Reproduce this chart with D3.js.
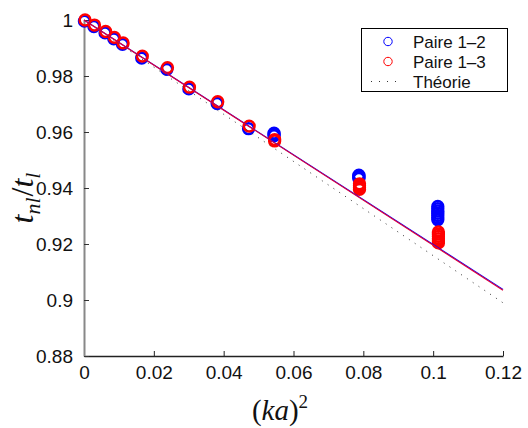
<!DOCTYPE html>
<html>
<head>
<meta charset="utf-8">
<script src="https://cdn.jsdelivr.net/npm/d3@7"></script>
<style>
  html, body { margin: 0; padding: 0; background: #fff; }
  svg { display: block; }
</style>
</head>
<body>
<div id="chart"></div>
<script>
// ---- data ----
const xTicks = [0, 0.02, 0.04, 0.06, 0.08, 0.1, 0.12];
const xTickLabels = ["0", "0.02", "0.04", "0.06", "0.08", "0.1", "0.12"];
const yTicks = [0.88, 0.9, 0.92, 0.94, 0.96, 0.98, 1];
const yTickLabels = ["0.88", "0.9", "0.92", "0.94", "0.96", "0.98", "1"];

// Paire 1-2 (blue)
const x12 = [0.0003, 0.0030, 0.0062, 0.0087, 0.0112, 0.0167, 0.0239, 0.0302, 0.0383, 0.0473,
             0.0546, 0.0546, 0.0546,
             0.0789, 0.0789, 0.0789, 0.0789,
             0.1015, 0.1015, 0.1015, 0.1015, 0.1015, 0.1015, 0.1015];
const y12 = [0.9998, 0.9979, 0.9956, 0.9935, 0.9915, 0.9866, 0.9826, 0.9756, 0.9704, 0.9614,
             0.9598, 0.9593, 0.9589,
             0.9448, 0.9444, 0.9440, 0.9436,
             0.9336, 0.9328, 0.9320, 0.9312, 0.9304, 0.9296, 0.9289];
// Paire 1-3 (red)
const x13 = [0.0003, 0.0030, 0.0062, 0.0087, 0.0112, 0.0167, 0.0239, 0.0302, 0.0383, 0.0473,
             0.0546, 0.0546,
             0.0789, 0.0789, 0.0789, 0.0789,
             0.1015, 0.1015, 0.1015, 0.1015, 0.1015, 0.1015];
const y13 = [1.0000, 0.9982, 0.9959, 0.9938, 0.9918, 0.9871, 0.9830, 0.9760, 0.9708, 0.9621,
             0.9573, 0.9568,
             0.9415, 0.9408, 0.9401, 0.9395,
             0.9243, 0.9235, 0.9227, 0.9219, 0.9211, 0.9204];

// fitted lines and theory (endpoints)
const lineX = [0, 0.12];
const fit12 = [1.0, 0.9038];
const fit13 = [1.0, 0.9035];
const theory = [1.0, 0.8990];

const legendLabels = ["Paire 1\u20132", "Paire 1\u20133", "Th\u00e9orie"];

// ---- layout ----
const W = 528, H = 428;
const m = { left: 84, right: 25, top: 20, bottom: 72 };

const svg = d3.select("#chart").append("svg")
  .attr("width", W).attr("height", H);

const x = d3.scaleLinear().domain([0, 0.12]).range([m.left, W - m.right]);
const y = d3.scaleLinear().domain([0.88, 1]).range([H - m.bottom, m.top]);

const tickFont = "'Liberation Sans', Arial, Helvetica, sans-serif";

// axes
const xAxis = d3.axisBottom(x).tickValues(xTicks)
  .tickFormat((d, i) => xTickLabels[i]).tickSizeInner(-5).tickSizeOuter(0).tickPadding(10);
const yAxis = d3.axisLeft(y).tickValues(yTicks)
  .tickFormat((d, i) => yTickLabels[i]).tickSizeInner(-5).tickSizeOuter(0).tickPadding(11);

const gx = svg.append("g").attr("transform", `translate(0,${y(0.88)})`).call(xAxis);
gx.select(".domain").attr("stroke", "#222").attr("stroke-width", 1.5);
gx.selectAll(".tick line").attr("stroke", "#222");
gx.selectAll(".tick text").attr("font-family", tickFont).attr("font-size", 19).attr("fill", "#111");

const gy = svg.append("g").attr("transform", `translate(${x(0)},0)`).call(yAxis);
gy.select(".domain").attr("stroke", "#888").attr("stroke-width", 2);
gy.selectAll(".tick line").attr("stroke", "#333");
gy.selectAll(".tick text").attr("font-family", tickFont).attr("font-size", 19).attr("fill", "#111");

// data markers
const pts12 = x12.map((v, i) => [v, y12[i]]);
const pts13 = x13.map((v, i) => [v, y13[i]]);

svg.append("g").selectAll("circle").data(pts12).join("circle")
  .attr("cx", d => x(d[0]) - 0.6).attr("cy", d => y(d[1]) + 0.6).attr("r", 5.4)
  .attr("fill", "none").attr("stroke", "#0000ff").attr("stroke-width", 2.5);
svg.append("g").selectAll("circle").data(pts13).join("circle")
  .attr("cx", d => x(d[0])).attr("cy", d => y(d[1])).attr("r", 5.4)
  .attr("fill", "none").attr("stroke", "#ff0000").attr("stroke-width", 2.5);

// lines
const line = d3.line().x(d => x(d[0])).y(d => y(d[1]));
svg.append("path").datum(lineX.map((v, i) => [v, theory[i]]))
  .attr("d", line).attr("fill", "none").attr("stroke", "#333")
  .attr("stroke-width", 1).attr("stroke-dasharray", "1,6");
svg.append("path").datum(lineX.map((v, i) => [v, fit12[i]]))
  .attr("d", line).attr("fill", "none").attr("stroke", "#0000ff").attr("stroke-width", 1.1);
svg.append("path").datum(lineX.map((v, i) => [v, fit13[i]]))
  .attr("d", line).attr("fill", "none").attr("stroke", "#e0003a").attr("stroke-width", 1.2);

// legend
const lg = svg.append("g");
lg.append("rect").attr("x", 361.5).attr("y", 28.5).attr("width", 146).attr("height", 63)
  .attr("fill", "#fff").attr("stroke", "#000").attr("stroke-width", 1);
const rowsY = [41.5, 61.5, 81.5];
lg.append("circle").attr("cx", 388).attr("cy", rowsY[0]).attr("r", 4.2)
  .attr("fill", "none").attr("stroke", "#0000ff").attr("stroke-width", 1);
lg.append("circle").attr("cx", 388).attr("cy", rowsY[1]).attr("r", 4.2)
  .attr("fill", "none").attr("stroke", "#ff0000").attr("stroke-width", 1);
lg.append("line").attr("x1", 371).attr("x2", 401).attr("y1", rowsY[2]).attr("y2", rowsY[2])
  .attr("stroke", "#333").attr("stroke-width", 1).attr("stroke-dasharray", "1,7");
lg.selectAll("text.lab").data(legendLabels).join("text").attr("class", "lab")
  .attr("x", 413).attr("y", (d, i) => rowsY[i]).attr("dy", "0.36em")
  .attr("font-family", tickFont).attr("font-size", 17).attr("fill", "#111").text(d => d);

// x-axis title (ka)^2
const xt = svg.append("text").attr("x", 280).attr("y", 420).attr("text-anchor", "middle")
  .attr("font-family", "'Liberation Serif', 'DejaVu Serif', serif").attr("font-size", 29).attr("fill", "#111");
xt.append("tspan").text("(");
xt.append("tspan").attr("font-style", "italic").text("ka");
xt.append("tspan").text(")");
xt.append("tspan").attr("font-size", 19).attr("dy", -12).text("2");

// y-axis title t_nl / t_l
const yt = svg.append("text").attr("transform", "translate(33,198) rotate(-90)")
  .attr("text-anchor", "middle")
  .attr("font-family", "'Liberation Serif', 'DejaVu Serif', serif").attr("font-size", 32).attr("fill", "#111");
yt.append("tspan").attr("font-style", "italic").text("t");
yt.append("tspan").attr("font-style", "italic").attr("font-size", 22).attr("dy", 7).text("nl");
yt.append("tspan").attr("dy", -7).attr("dx", 1).text("/");
yt.append("tspan").attr("font-style", "italic").text("t");
yt.append("tspan").attr("font-style", "italic").attr("font-size", 22).attr("dy", 7).text("l");
</script>
</body>
</html>
